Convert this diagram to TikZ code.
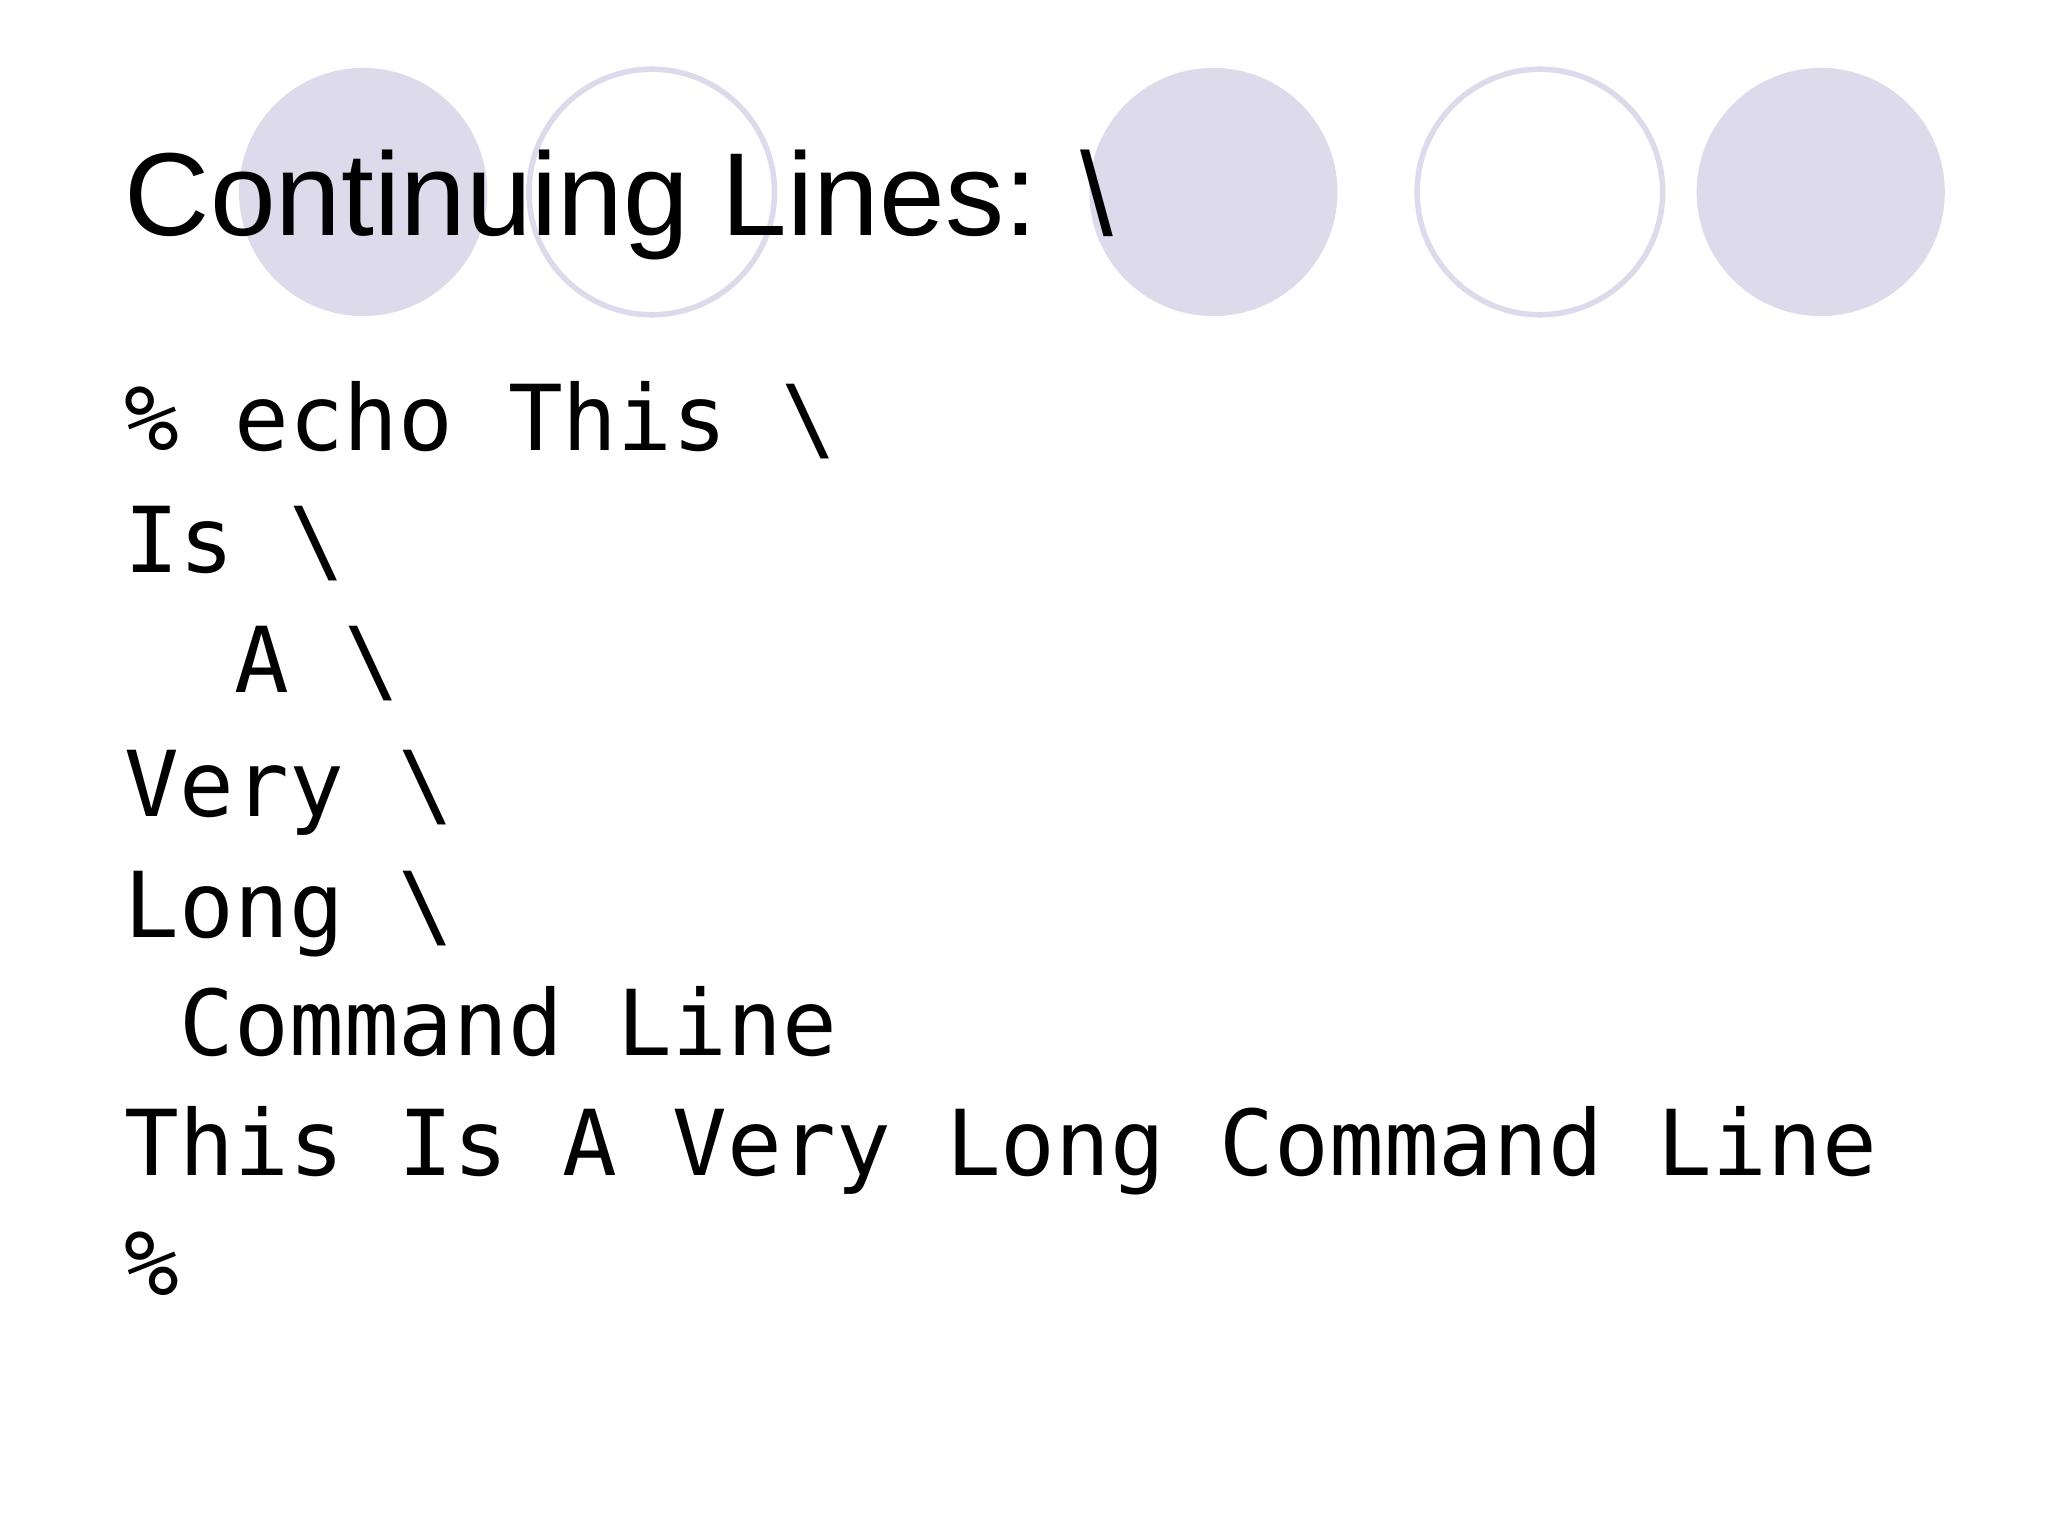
\documentclass[tikz,border=0pt]{standalone}
\usepackage{fontspec}
\setmainfont{Liberation Sans}
\setmonofont{DejaVu Sans Mono}
\definecolor{lavender}{HTML}{DCDAEB}
\tikzset{
  codeline/.style={anchor=base west, inner sep=0pt, font=\fontsize{19.8}{20}\selectfont\ttfamily},
  titletext/.style={anchor=base west, inner sep=0pt, font=\fontsize{25.7}{26}\selectfont}
}
\begin{document}
\begin{tikzpicture}[x=0.01cm,y=-0.01cm]
        \useasboundingbox[fill=white] (0,0) rectangle (1568,1176);

        % decorative circles
        \foreach \cx in {278,929,1394}
            \fill[lavender] (\cx,147) circle (95);
        \foreach \cx in {499,1179}
            \draw[lavender, line width=1.2pt, fill=white] (\cx,147) circle (94);

        \node[titletext] (title) at (95,180) {Continuing Lines: \textbackslash};

        \node[codeline] (l1) at (95,345) {\% echo This \textbackslash};
        \node[codeline] (l2) at (95,438) {Is \textbackslash};
        \node[codeline] (l3) at (179,530) {A \textbackslash};
        \node[codeline] (l4) at (95,625) {Very \textbackslash};
        \node[codeline] (l5) at (95,718) {Long \textbackslash};
        \node[codeline] (l6) at (137,808) {Command Line};
        \node[codeline] (l7) at (95,900) {This Is A Very Long Command Line};
        \node[codeline] (l8) at (95,992) {\%};
\end{tikzpicture}
\end{document}
